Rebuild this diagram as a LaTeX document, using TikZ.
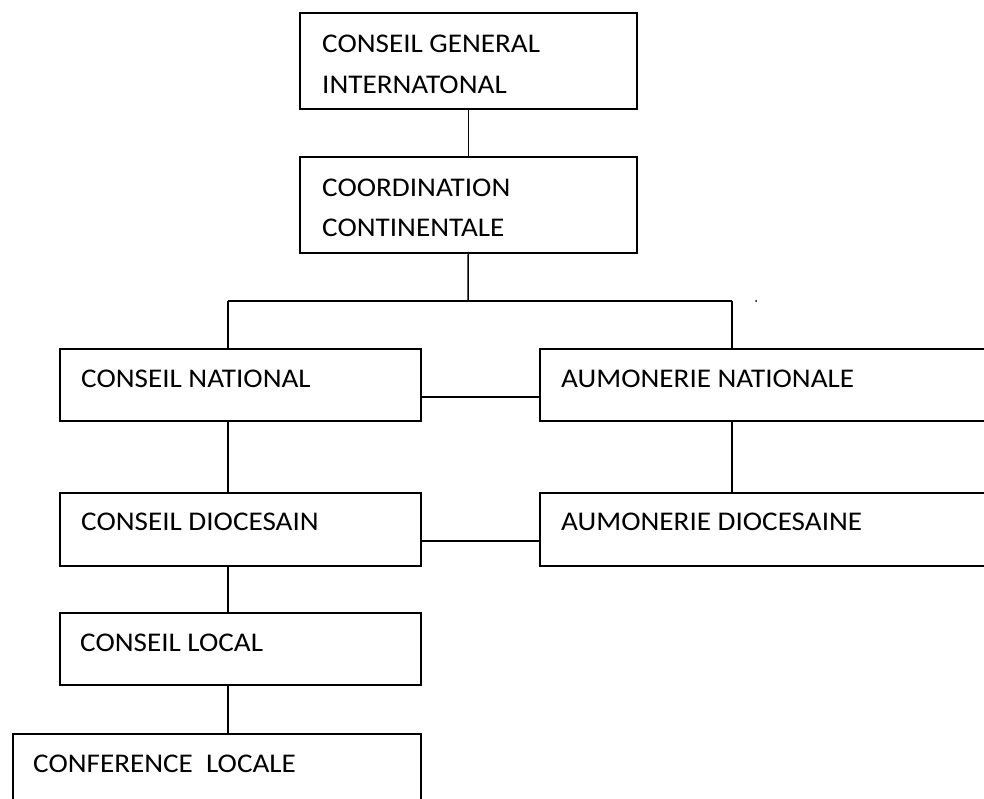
\documentclass[tikz,border=0pt]{standalone}
\usepackage{fontspec}
\setmainfont{Carlito}[FakeStretch=1.08]
\usetikzlibrary{calc}
\tikzset{
  box/.style={draw, line width=1.5pt, rectangle, inner sep=0pt, anchor=north west},
  txt/.style={anchor=base west, inner sep=0pt, font=\fontsize{27}{32}\selectfont},
  link/.style={line width=1.5pt}
}
\begin{document}
\begin{tikzpicture}[x=1pt,y=-1pt]
\useasboundingbox (0,0) rectangle (984,798);
\clip (0,0) rectangle (984,798);
% boxes
\node[box, minimum width=337pt, minimum height=96pt] (cg) at (299,12) {};
\node[box, minimum width=337pt, minimum height=96pt] (cc) at (299,156) {};
\node[box, minimum width=361pt, minimum height=72pt] (cn) at (59,348) {};
\node[box, minimum width=500pt, minimum height=72pt] (an) at (539,348) {};
\node[box, minimum width=361pt, minimum height=73pt] (cd) at (59,492) {};
\node[box, minimum width=500pt, minimum height=73pt] (ad) at (539,492) {};
\node[box, minimum width=361pt, minimum height=72pt] (cl) at (59,612) {};
\node[box, minimum width=408pt, minimum height=90pt] (cf) at (12,733) {};
% texts
\node[txt] (t1a) at ($(cg.north west)+(23,40)$) {CONSEIL GENERAL};
\node[txt] (t1b) at ($(cg.north west)+(23,81)$) {INTERNATONAL};
\node[txt] (t2a) at ($(cc.north west)+(23,40)$) {COORDINATION};
\node[txt] (t2b) at ($(cc.north west)+(23,80)$) {CONTINENTALE};
\node[txt] (t3) at ($(cn.north west)+(22,39)$) {CONSEIL NATIONAL};
\node[txt] (t4) at ($(an.north west)+(22,39)$) {AUMONERIE NATIONALE};
\node[txt] (t5) at ($(cd.north west)+(22,38)$) {CONSEIL DIOCESAIN};
\node[txt] (t6) at ($(ad.north west)+(22,38)$) {AUMONERIE DIOCESAINE};
\node[txt] (t7) at ($(cl.north west)+(21,39)$) {CONSEIL LOCAL};
\node[txt] (t8) at ($(cf.north west)+(21,39)$) {CONFERENCE\ \ LOCALE};
% junctions
\coordinate (jc) at (468,301);
\coordinate (jl) at (228,301);
\coordinate (jr) at (732,301);
% connectors
\draw[link] (cg.south) -- (cc.north);
\draw[link] (cc.south) -- (jc);
\draw[link] (jl) -- (jr);
\draw[link] (jl) -- (jl |- cn.north);
\draw[link] (jr) -- (jr |- an.north);
\draw[link] (jr |- an.south) -- (jr |- ad.north);
\draw[link] (jl |- cn.south) -- (jl |- cd.north);
\draw[link] (jl |- cd.south) -- (jl |- cl.north);
\draw[link] (jl |- cl.south) -- (jl |- cf.north);
\coordinate (hn) at ($(cn.north east)+(0,49)$);
\coordinate (hd) at ($(cd.north east)+(0,49)$);
\draw[link] (hn) -- (an.west |- hn);
\draw[link] (hd) -- (ad.west |- hd);
% stray dot
\fill (756,301) circle (1pt);
\end{tikzpicture}
\end{document}
